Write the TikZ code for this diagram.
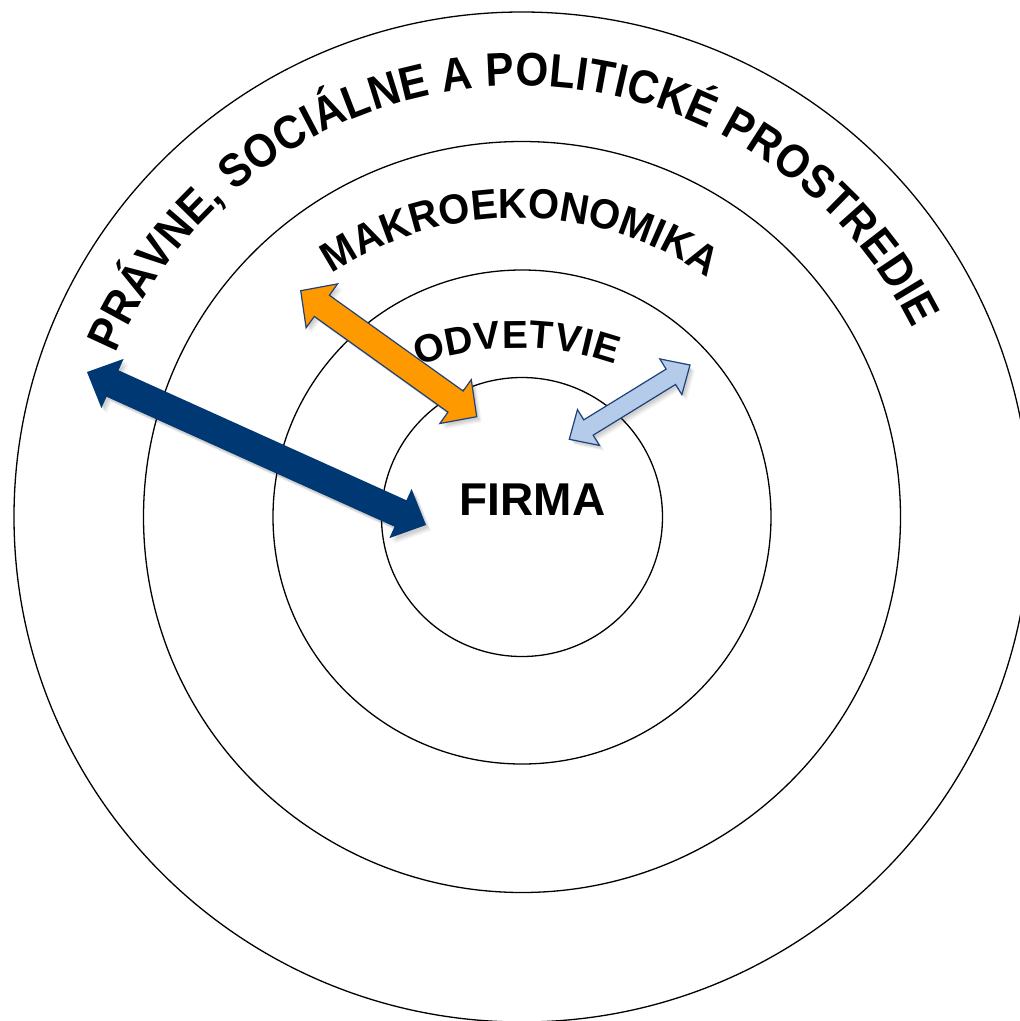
\documentclass[tikz,border=0pt]{standalone}
\usepackage{fontspec}
\setmainfont{Liberation Sans}
\newfontfamily\outerfont{Liberation Sans}[FakeStretch=0.9]
\newfontfamily\makrofont{Liberation Sans}[FakeStretch=0.95]
\usetikzlibrary{calc,decorations.text}
\definecolor{navy}{RGB}{0,56,116}
\definecolor{orng}{RGB}{255,153,0}
\definecolor{lblue}{RGB}{180,204,234}
\definecolor{edgeblue}{RGB}{31,64,120}

% #1 options, #2 tip A, #3 tip B, #4 shaft half width, #5 head half width, #6 head length
\newcommand\dblarrow[6]{%
 \path[#1] (#2) -- ($(#2)!#6pt!(#3)!#5pt!90:(#3)$) -- ($(#2)!#6pt!(#3)!#4pt!90:(#3)$)
  -- ($(#3)!#6pt!(#2)!#4pt!-90:(#2)$) -- ($(#3)!#6pt!(#2)!#5pt!-90:(#2)$) -- (#3)
  -- ($(#3)!#6pt!(#2)!#5pt!90:(#2)$) -- ($(#3)!#6pt!(#2)!#4pt!90:(#2)$)
  -- ($(#2)!#6pt!(#3)!#4pt!-90:(#3)$) -- ($(#2)!#6pt!(#3)!#5pt!-90:(#3)$) -- cycle;}
\newcommand\shadowedarrow[6]{%
 \begin{scope}[transform canvas={shift={(2pt,-2.5pt)}}]\dblarrow{fill=black,opacity=0.07}{#2}{#3}{#4}{#5}{#6}\end{scope}
 \begin{scope}[transform canvas={shift={(3.5pt,-4pt)}}]\dblarrow{fill=black,opacity=0.07}{#2}{#3}{#4}{#5}{#6}\end{scope}
 \begin{scope}[transform canvas={shift={(5pt,-5.5pt)}}]\dblarrow{fill=black,opacity=0.05}{#2}{#3}{#4}{#5}{#6}\end{scope}
 \dblarrow{#1}{#2}{#3}{#4}{#5}{#6}}

\tikzset{
  ring/.style={draw=black, line width=1.3pt},
  arctext/.style={decorate, decoration={text along path, text align={fit to path}}},
}

\begin{document}
\begin{tikzpicture}[x=1pt,y=1pt]
\useasboundingbox (0,0) rectangle (1020,-1021);
\fill[white] (0,0) rectangle (1020,-1021);
\clip (0,0) rectangle (1020,-1021);

\coordinate (c) at (522,-517);
\draw[ring] (c) ellipse [x radius=508, y radius=505];
\draw[ring] (c) ellipse [x radius=378.5, y radius=375.5];
\draw[ring] (c) ellipse [x radius=249, y radius=247];
\draw[ring] (c) ellipse [x radius=140.5, y radius=139.5];

% curved labels
\coordinate (c1) at (520,-525);
\coordinate (c2) at (517,-554);
\coordinate (c3) at (518,-640);
\path[arctext, decoration={text={|\outerfont\bfseries\fontsize{47}{47}\selectfont|PRÁVNE, SOCIÁLNE A POLITICKÉ PROSTREDIE}}]
  (c1) ++(157:439) arc[start angle=157, end angle=26.6, radius=439];
\path[arctext, decoration={text={|\makrofont\bfseries\fontsize{42}{42}\selectfont|MAKROEKONOMIKA}}]
  (c2) ++(123.4:336) arc[start angle=123.4, end angle=55.4, radius=336];
\path[arctext, decoration={text={|\bfseries\fontsize{39}{39}\selectfont|ODVETVIE}}]
  (c3) ++(110:292) arc[start angle=110, end angle=70.5, radius=292];

\node[inner sep=0, font=\bfseries\fontsize{46}{46}\selectfont] (firma) at (532.7,-499.7) {FIRMA};

% arrows
\coordinate (n1) at (87,-372);
\coordinate (n2) at (426,-525);
\coordinate (o1) at (300.7,-290.7);
\coordinate (o2) at (476.7,-416.7);
\coordinate (l1) at (690,-365);
\coordinate (l2) at (569.3,-439.3);

\shadowedarrow{fill=navy}{n1}{n2}{14.5}{27}{28}
\shadowedarrow{fill=orng, draw=edgeblue, line width=1.2pt, line join=miter}{o1}{o2}{13}{27}{26}
\shadowedarrow{fill=lblue, draw=edgeblue, line width=1.2pt, line join=miter}{l1}{l2}{9}{21}{22.5}
\end{tikzpicture}
\end{document}
